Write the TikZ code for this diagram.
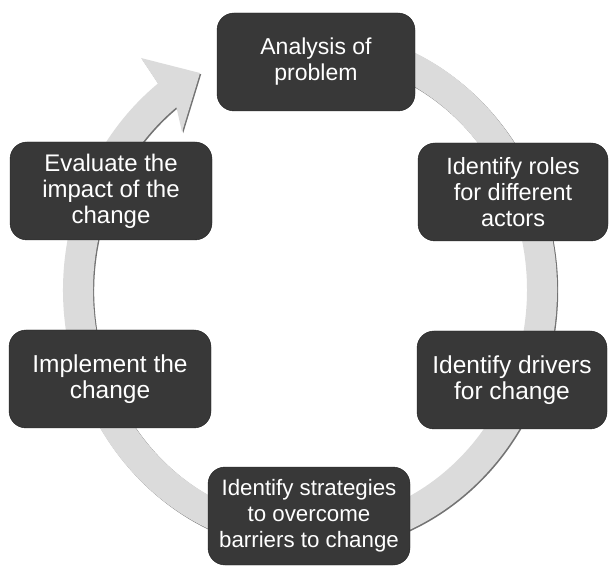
\documentclass[tikz,border=0pt]{standalone}
\usepackage{fontspec}
\setmainfont{Liberation Sans}
\usetikzlibrary{calc, positioning, shapes}
\tikzset{
    cycle_node/.style={rectangle, rounded corners=17pt, minimum height=98pt, text centered, align=center, fill=black!78, draw=black!88, text=white, font=\fontsize{#1}{26}\selectfont},
    cycle_node/.default=23,
    ring_fill/.style={fill=black!14, draw=none},
    ring_shade/.style={fill=black!55, draw=none},
}

\begin{document}
\begin{tikzpicture}[x=1pt, y=1pt]
      \useasboundingbox (0,0) rectangle (610,565);
      %%%%%%%%%%%%%%%%
      % Cycle arrow  %
      %%%%%%%%%%%%%%%%
      \def\ringpath{(310,275) ++(85:247 and 262)
          arc[start angle=85, end angle=-232, x radius=247, y radius=262]
          -- (141,507) -- (200,492) -- (182,433)
          -- ($(310,275)+(128:217 and 232)$)
          arc[start angle=-232, end angle=85, x radius=217, y radius=232]
          -- cycle}
      \fill [ring_shade, xshift=1.2pt, yshift=-1.2pt] \ringpath;
      \fill [ring_fill] \ringpath;

      %%%%%%%%%%%%%%%%
      % Stages       %
      %%%%%%%%%%%%%%%%
      \node (analysis) [cycle_node=23, minimum width=198pt] at (316,503)
          {Analysis of\\problem};
      \node (roles) [cycle_node=23.5, minimum width=190pt] at (513,373)
          {Identify roles\\for different\\actors};
      \node (drivers) [cycle_node=24.5, minimum width=190pt] at (512,185)
          {Identify drivers\\for change};
      \node (strategies) [cycle_node=22.3, minimum width=202pt] at (309,49)
          {Identify strategies\\to overcome\\barriers to change};
      \node (implement) [cycle_node=24.5, minimum width=202pt] at (110,186)
          {Implement the\\change};
      \node (evaluate) [cycle_node=24, minimum width=202pt] at (111,374)
          {Evaluate the\\impact of the\\change};

\end{tikzpicture}
\end{document}
